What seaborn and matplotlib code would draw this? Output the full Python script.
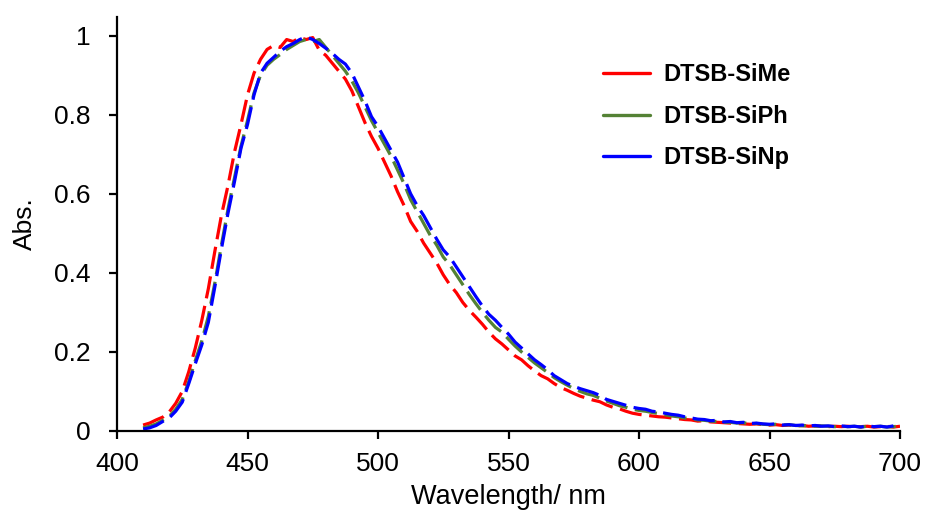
import numpy as np
import pandas as pd
import matplotlib
matplotlib.use("Agg")
import matplotlib.pyplot as plt
from matplotlib.lines import Line2D
import seaborn as sns

wavelength = np.arange(410, 700.01, 2.5)

abs_sime = [
    0.015, 0.020, 0.028, 0.035, 0.048, 0.070, 0.100, 0.150, 0.210, 0.280,
    0.360, 0.455, 0.545, 0.620, 0.705, 0.775, 0.850, 0.905, 0.940, 0.965,
    0.975, 0.970, 0.990, 0.985, 0.995, 0.990, 0.995, 0.963, 0.950, 0.930,
    0.910, 0.890, 0.860, 0.820, 0.780, 0.745, 0.715, 0.680, 0.645, 0.605,
    0.570, 0.530, 0.505, 0.475, 0.450, 0.425, 0.395, 0.370, 0.350, 0.325,
    0.305, 0.288, 0.270, 0.250, 0.233, 0.220, 0.205, 0.190, 0.180, 0.165,
    0.152, 0.140, 0.132, 0.120, 0.110, 0.103, 0.095, 0.088, 0.083, 0.078,
    0.074, 0.066, 0.060, 0.056, 0.050, 0.045, 0.042, 0.040, 0.038, 0.036,
    0.035, 0.033, 0.031, 0.029, 0.028, 0.025, 0.026, 0.023, 0.022, 0.021,
    0.020, 0.019, 0.018, 0.017, 0.018, 0.016, 0.015, 0.016, 0.014, 0.015,
    0.013, 0.014, 0.012, 0.013, 0.012, 0.011, 0.012, 0.011, 0.012, 0.010,
    0.011, 0.012, 0.010, 0.011, 0.012, 0.010, 0.012,
]

abs_siph = [
    0.008, 0.012, 0.018, 0.027, 0.037, 0.055, 0.080, 0.125, 0.178, 0.228,
    0.290, 0.375, 0.470, 0.560, 0.640, 0.720, 0.785, 0.855, 0.900, 0.925,
    0.940, 0.952, 0.965, 0.975, 0.985, 0.990, 0.985, 0.990, 0.970, 0.950,
    0.930, 0.910, 0.885, 0.855, 0.820, 0.785, 0.755, 0.725, 0.695, 0.660,
    0.625, 0.585, 0.555, 0.525, 0.495, 0.470, 0.440, 0.420, 0.395, 0.370,
    0.345, 0.322, 0.300, 0.280, 0.262, 0.250, 0.232, 0.215, 0.200, 0.186,
    0.172, 0.160, 0.148, 0.135, 0.125, 0.116, 0.107, 0.100, 0.094, 0.090,
    0.083, 0.076, 0.070, 0.064, 0.060, 0.055, 0.052, 0.050, 0.047, 0.044,
    0.041, 0.038, 0.036, 0.033, 0.031, 0.028, 0.027, 0.025, 0.024, 0.022,
    0.022, 0.020, 0.021, 0.018, 0.019, 0.017, 0.016, 0.017, 0.015, 0.016,
    0.014, 0.013, 0.014, 0.012, 0.013, 0.012, 0.011, 0.012, 0.011, 0.012,
    0.010, 0.012, 0.011, 0.012, 0.010, 0.011, 0.013,
]

abs_sinp = [
    0.005, 0.008, 0.014, 0.024, 0.033, 0.050, 0.073, 0.120, 0.170, 0.218,
    0.275, 0.365, 0.460, 0.550, 0.630, 0.715, 0.775, 0.850, 0.905, 0.930,
    0.945, 0.960, 0.972, 0.980, 0.990, 0.997, 0.990, 0.980, 0.968, 0.955,
    0.940, 0.928, 0.905, 0.870, 0.835, 0.795, 0.770, 0.740, 0.710, 0.680,
    0.640, 0.600, 0.570, 0.545, 0.515, 0.485, 0.458, 0.440, 0.415, 0.390,
    0.365, 0.340, 0.316, 0.295, 0.280, 0.262, 0.245, 0.225, 0.210, 0.195,
    0.180, 0.168, 0.155, 0.140, 0.130, 0.120, 0.113, 0.107, 0.102, 0.097,
    0.090, 0.080, 0.075, 0.070, 0.065, 0.060, 0.057, 0.055, 0.050, 0.048,
    0.045, 0.042, 0.040, 0.036, 0.033, 0.030, 0.029, 0.026, 0.027, 0.023,
    0.024, 0.021, 0.022, 0.019, 0.020, 0.018, 0.017, 0.018, 0.015, 0.016,
    0.014, 0.015, 0.013, 0.014, 0.012, 0.013, 0.011, 0.013, 0.011, 0.012,
    0.010, 0.013, 0.011, 0.012, 0.010, 0.013, 0.018,
]

series_names = ["DTSB-SiMe", "DTSB-SiPh", "DTSB-SiNp"]
series_values = [abs_sime, abs_siph, abs_sinp]
colors = ["#FF0000", "#548235", "#0000FF"]

x_ticks = [400, 450, 500, 550, 600, 650, 700]
y_ticks = [0, 0.2, 0.4, 0.6, 0.8, 1]
y_tick_labels = ["0", "0.2", "0.4", "0.6", "0.8", "1"]

sns.set_style("ticks")
plt.rcParams["font.family"] = ["Liberation Sans", "DejaVu Sans"]
plt.rcParams["text.color"] = "black"
plt.rcParams["axes.labelcolor"] = "black"

fig = plt.figure(figsize=(9.27, 5.15), dpi=100)
ax = fig.add_axes([117 / 927, 1 - 431 / 515, (900 - 117) / 927, (431 - 17) / 515])

for name, vals, col in zip(series_names, series_values, colors):
    df = pd.DataFrame({"Wavelength": wavelength, "Abs": vals})
    sns.lineplot(data=df, x="Wavelength", y="Abs", ax=ax, color=col,
                 linewidth=2.3, linestyle=(0, (7, 2.4)), legend=False)

ax.set_xlim(400, 700)
ax.set_ylim(0, 1.047)
ax.set_xticks(x_ticks)
ax.set_xticklabels([str(t) for t in x_ticks])
ax.set_yticks(y_ticks)
ax.set_yticklabels(y_tick_labels)
ax.tick_params(axis="both", direction="out", length=6, width=1.6,
               labelsize=19, color="black", labelcolor="black")
ax.tick_params(axis="x", pad=9)
ax.tick_params(axis="y", pad=13)
for side in ["top", "right"]:
    ax.spines[side].set_visible(False)
for side in ["left", "bottom"]:
    ax.spines[side].set_linewidth(1.6)
    ax.spines[side].set_color("black")

ax.set_xlabel("Wavelength/ nm", fontsize=19.5, labelpad=6, color="black")
ax.set_ylabel("Abs.", fontsize=19, labelpad=12, color="black")

handles = [Line2D([0], [0], color=c, lw=2.4) for c in colors]
leg = ax.legend(handles, series_names, loc="upper left",
                bbox_to_anchor=(0.6207, 0.888), frameon=False,
                prop={"weight": "bold", "size": 17},
                handlelength=2.0, handletextpad=0.55, labelspacing=0.78,
                borderaxespad=0, borderpad=0)

fig.savefig("out.png", dpi=100)
